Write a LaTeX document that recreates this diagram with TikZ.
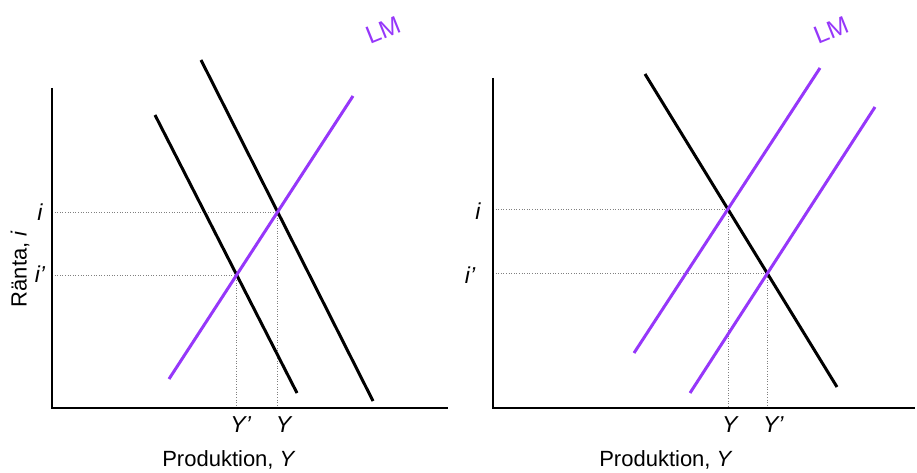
\documentclass[tikz,border=0pt]{standalone}
\usepackage{fontspec}
\setmainfont{Liberation Sans}
\definecolor{lmpurple}{RGB}{150,55,250}
\begin{document}
\begin{tikzpicture}[x=1pt,y=-1pt,
  axis/.style={line width=2.8pt},
  isline/.style={line width=3pt,black},
  lmline/.style={line width=3pt,lmpurple},
  guide/.style={line width=0.6pt,gray,dotted},
  lbl/.style={font=\fontsize{23}{27}\selectfont\itshape,inner sep=0pt},
  txt/.style={font=\fontsize{22}{26}\selectfont,inner sep=0pt},
  lmlbl/.style={font=\fontsize{25}{29}\selectfont,text=lmpurple,rotate=22,inner sep=0pt}]
\useasboundingbox (0,0) rectangle (917,473);
% ---------- left panel ----------
\coordinate (LA) at (52,88);
\coordinate (LO) at (52,408);
\coordinate (LX) at (448,408);
\coordinate (a1) at (155,115); \coordinate (a2) at (297,393);
\coordinate (b1) at (201,60);  \coordinate (b2) at (373,401);
\coordinate (c1) at (169,379); \coordinate (c2) at (353,96);
\coordinate (LP) at (intersection of b1--b2 and c1--c2);
\coordinate (LQ) at (intersection of a1--a2 and c1--c2);
\draw[guide] (LO |- LP) -- (LP) -- (LP |- LO);
\draw[guide] (LO |- LQ) -- (LQ) -- (LQ |- LO);
\draw[isline] (a1) -- (a2);
\draw[isline] (b1) -- (b2);
\draw[lmline] (c1) -- (c2);
\draw[axis] (LA) -- (LO) -- (LX);
\node[lbl] (li) at (40,212) {i};
\node[lbl] (lip) at (40,274) {i’};
\node[lbl] (lYp) at ([xshift=4pt]LQ |- 0,425) {Y’};
\node[lbl] (lY) at ([xshift=6pt]LP |- 0,425) {Y};
\node[txt] (lprod) at (229,460) {Produktion, \textit{Y}};
\node[txt,rotate=90] (lranta) at (20,269) {Ränta, \textit{i}};
\node[lmlbl] (llm) at (383,30) {LM};
% ---------- right panel ----------
\coordinate (RA) at (493,78);
\coordinate (RO) at (493,408);
\coordinate (RX) at (915,408);
\coordinate (d1) at (645,74);  \coordinate (d2) at (837,387);
\coordinate (e1) at (634,353); \coordinate (e2) at (820,68);
\coordinate (f1) at (690,393); \coordinate (f2) at (875,107);
\coordinate (RP) at (intersection of d1--d2 and e1--e2);
\coordinate (RQ) at (intersection of d1--d2 and f1--f2);
\draw[guide] (RO |- RP) -- (RP) -- (RP |- RO);
\draw[guide] (RO |- RQ) -- (RQ) -- (RQ |- RO);
\draw[isline] (d1) -- (d2);
\draw[lmline] (e1) -- (e2);
\draw[lmline] (f1) -- (f2);
\draw[axis] (RA) -- (RO) -- (RX);
\node[lbl] (ri) at (478,211) {i};
\node[lbl] (rip) at (470,275) {i’};
\node[lbl] (rY) at ([xshift=2pt]RP |- 0,425) {Y};
\node[lbl] (rYp) at ([xshift=6pt]RQ |- 0,425) {Y’};
\node[txt] (rprod) at (666,460) {Produktion, \textit{Y}};
\node[lmlbl] (rlm) at (831,30) {LM};
\end{tikzpicture}
\end{document}
